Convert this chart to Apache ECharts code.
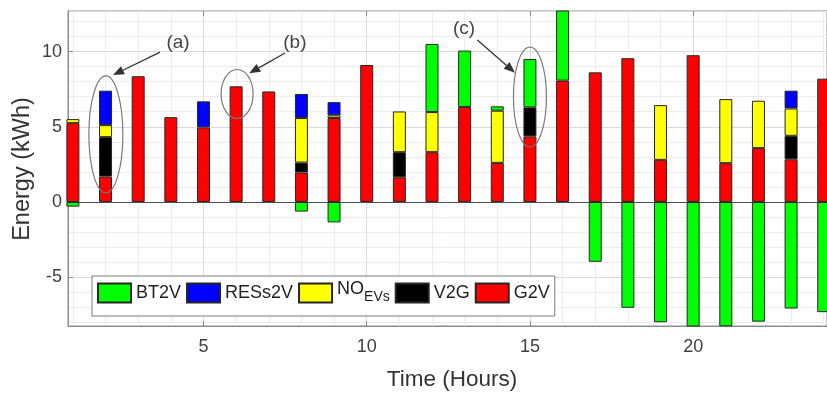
<!DOCTYPE html>
<html>
<head>
<meta charset="utf-8">
<script src="https://cdn.jsdelivr.net/npm/echarts@6/dist/echarts.min.js"></script>
<style>
  html, body { margin: 0; padding: 0; background: #fff; }
  #main { width: 827px; height: 396px; }
</style>
</head>
<body>
<div id="main"></div>
<script>
// hourly energy split (kWh)
const hours = [1, 2, 3, 4, 5, 6, 7, 8, 9, 10, 11, 12, 13, 14, 15, 16, 17, 18, 19, 20, 21, 22, 23, 24];
const g2v = [5.24, 1.69, 8.36, 5.64, 4.96, 7.69, 7.35, 1.96, 5.58, 9.11, 1.64, 3.31, 6.31, 2.6, 4.36, 8.07, 8.62, 9.56, 2.8, 9.76, 2.58, 3.58, 2.84, 8.2];
const v2g = [null, 2.62, null, null, null, null, null, 0.66, null, null, 1.67, null, null, null, 1.93, null, null, null, null, null, null, null, 1.56, null];
const noEVs = [0.27, 0.8, null, null, null, null, null, 2.96, 0.18, null, 2.71, 2.67, null, 3.47, null, null, null, null, 3.64, null, 4.26, 3.15, 1.82, null];
const ress2v = [null, 2.29, null, null, 1.73, null, null, 1.6, 0.88, null, null, null, null, null, null, null, null, null, null, null, null, null, 1.18, null];
const bt2v = [-0.31, null, null, null, null, null, null, -0.64, -1.36, null, null, 4.53, 3.76, 0.29, 3.22, 5.0, -3.98, -7.04, -8.0, -8.36, -8.27, -7.96, -7.09, -7.33];

const FONT = '"Liberation Sans", Arial, sans-serif';
const X_MIN = 0.85, X_MAX = 24.1;
const Y_MIN = -8.25, Y_MAX = 12.7;
const plot = { left: 68, top: 11, width: 759, height: 315 };
const step = plot.width / (X_MAX - X_MIN);
// category grid for the bars, shifted so hour h lands on x = h of the visible axis
const barGrid = {
  left: plot.left + (0.5 - X_MIN) * step,
  top: plot.top,
  width: hours.length * step,
  height: plot.height
};

const chart = echarts.init(document.getElementById('main'));

function barSeries(name, data, color) {
  return {
    name: name,
    type: 'bar',
    xAxisIndex: 3,
    yAxisIndex: 2,
    stack: 'energy',
    barWidth: 13,
    data: data,
    itemStyle: { color: color, borderColor: '#262626', borderWidth: 1 },
    emphasis: { disabled: true }
  };
}

const option = {
  animation: false,
  textStyle: { fontFamily: FONT },
  grid: [
    { left: plot.left, top: plot.top, width: plot.width, height: plot.height, outerBoundsMode: 'none',
      show: true, borderColor: '#8c8c8c', borderWidth: 1, backgroundColor: 'transparent' },
    { left: barGrid.left, top: barGrid.top, width: barGrid.width, height: barGrid.height,
      outerBoundsMode: 'none', show: false }
  ],
  xAxis: [
    { // minor grid + zero baseline
      gridIndex: 0, type: 'value', min: X_MIN, max: X_MAX, splitNumber: 23, position: 'bottom',
      axisLine: { show: true, onZero: true, lineStyle: { color: '#4d4d4d', width: 1 } },
      axisTick: { show: false }, axisLabel: { show: false },
      splitLine: { show: true, lineStyle: { color: '#ececec', width: 1 } }
    },
    { // major ticks and labels
      gridIndex: 0, type: 'value', min: X_MIN, max: X_MAX, splitNumber: 5, position: 'bottom',
      axisLine: { show: true, onZero: false, lineStyle: { color: '#8c8c8c' } },
      axisTick: { show: true, inside: true, length: 5, lineStyle: { color: '#8c8c8c' } },
      axisLabel: { fontSize: 18, color: '#404040', margin: 12, showMinLabel: false, showMaxLabel: false },
      splitLine: { show: true, lineStyle: { color: '#dadada', width: 1 } }
    },
    { // top ticks
      gridIndex: 0, type: 'value', min: X_MIN, max: X_MAX, splitNumber: 5, position: 'top',
      axisLine: { show: false, onZero: false },
      axisTick: { show: true, inside: true, length: 5, lineStyle: { color: '#8c8c8c' } },
      axisLabel: { show: false }, splitLine: { show: false }
    },
    { gridIndex: 1, type: 'category', data: hours, show: false }
  ],
  yAxis: [
    {
      gridIndex: 0, type: 'value', min: Y_MIN, max: Y_MAX, splitNumber: 21, position: 'left',
      axisLine: { show: false }, axisTick: { show: false }, axisLabel: { show: false },
      splitLine: { show: true, lineStyle: { color: '#ececec', width: 1 } }
    },
    {
      gridIndex: 0, type: 'value', min: Y_MIN, max: Y_MAX, splitNumber: 5, position: 'left',
      axisLine: { show: true, lineStyle: { color: '#8c8c8c' } },
      axisTick: { show: true, inside: true, length: 5, lineStyle: { color: '#8c8c8c' } },
      axisLabel: { fontSize: 18, color: '#404040', margin: 6, showMinLabel: false, showMaxLabel: false },
      splitLine: { show: true, lineStyle: { color: '#dadada', width: 1 } }
    },
    { gridIndex: 1, type: 'value', min: Y_MIN, max: Y_MAX, show: false }
  ],
  legend: {
    data: ['BT2V', 'RESs2V', 'NO_EVs', 'V2G', 'G2V'],
    left: 92,
    top: 276,
    itemWidth: 33,
    itemHeight: 19,
    itemGap: 5,
    padding: [4, 5, 10, 5],
    icon: 'rect',
    borderColor: '#7a7a7a',
    borderWidth: 1,
    backgroundColor: '#fff',
    selectedMode: false,
    formatter: function (name) {
      return name === 'NO_EVs' ? '{n|NO}{s|EVs}' : name;
    },
    textStyle: {
      fontFamily: FONT, fontSize: 18, color: '#1f1f1f',
      rich: {
        n: { fontFamily: FONT, fontSize: 18, color: '#1f1f1f', lineHeight: 14, padding: [0, 0, 8, 0] },
        s: { fontFamily: FONT, fontSize: 14, color: '#1f1f1f', lineHeight: 14, padding: [8, 0, 0, 0] }
      }
    }
  },
  graphic: [
    { type: 'text', x: 23, y: 169, rotation: Math.PI / 2,
      style: { text: 'Energy (kWh)', fontFamily: FONT, fontSize: 23.5, fill: '#333', align: 'center', verticalAlign: 'middle' } },
    { type: 'text', x: 452, y: 380,
      style: { text: 'Time (Hours)', fontFamily: FONT, fontSize: 22.5, fill: '#333', align: 'center', verticalAlign: 'middle' } }
  ],
  series: [
    barSeries('G2V', g2v, '#ff0000'),
    barSeries('V2G', v2g, '#000000'),
    barSeries('NO_EVs', noEVs, '#ffff00'),
    barSeries('RESs2V', ress2v, '#0000ff'),
    barSeries('BT2V', bt2v, '#00ff00')
  ]
};

chart.setOption(option);

// annotations (a), (b), (c): ellipse round a bar plus a labelled arrow
const notes = [
  { label: '(a)', center: [2.01, 4.49], rx: 17, ry: 58.5, text: [4.22, 10.57], tail: [3.67, 9.97], head: [2.23, 8.44] },
  { label: '(b)', center: [6.03, 7.18], rx: 16, ry: 24.5, text: [7.8, 10.57], tail: [7.5, 9.91], head: [6.4, 8.56] },
  { label: '(c)', center: [15.0, 6.98], rx: 16.5, ry: 50, text: [12.98, 11.5], tail: [13.39, 10.77], head: [14.54, 8.6] }
];

function toPx(p) {
  return chart.convertToPixel({ xAxisIndex: 0, yAxisIndex: 0 }, p);
}

const extra = [];
notes.forEach(function (n) {
  const c = toPx(n.center);
  const t = toPx(n.text);
  const a = toPx(n.tail);
  const h = toPx(n.head);
  extra.push({ type: 'ellipse', shape: { cx: c[0], cy: c[1], rx: n.rx, ry: n.ry },
    style: { fill: 'none', stroke: '#7a7a7a', lineWidth: 1.2 }, z: 10 });
  const dx = h[0] - a[0], dy = h[1] - a[1];
  const len = Math.sqrt(dx * dx + dy * dy);
  const ux = dx / len, uy = dy / len;
  const headLen = 11, headHalf = 4.5;
  const bx = h[0] - ux * headLen, by = h[1] - uy * headLen;
  extra.push({ type: 'line', shape: { x1: a[0], y1: a[1], x2: bx, y2: by },
    style: { stroke: '#333', lineWidth: 1.3 }, z: 10 });
  extra.push({ type: 'polygon',
    shape: { points: [[h[0], h[1]], [bx - uy * headHalf, by + ux * headHalf], [bx + uy * headHalf, by - ux * headHalf]] },
    style: { fill: '#333' }, z: 10 });
  extra.push({ type: 'text', x: t[0], y: t[1],
    style: { text: n.label, fontFamily: FONT, fontSize: 19, fill: '#444', align: 'center', verticalAlign: 'middle' }, z: 10 });
});

chart.setOption({ graphic: option.graphic.concat(extra) });
</script>
</body>
</html>
